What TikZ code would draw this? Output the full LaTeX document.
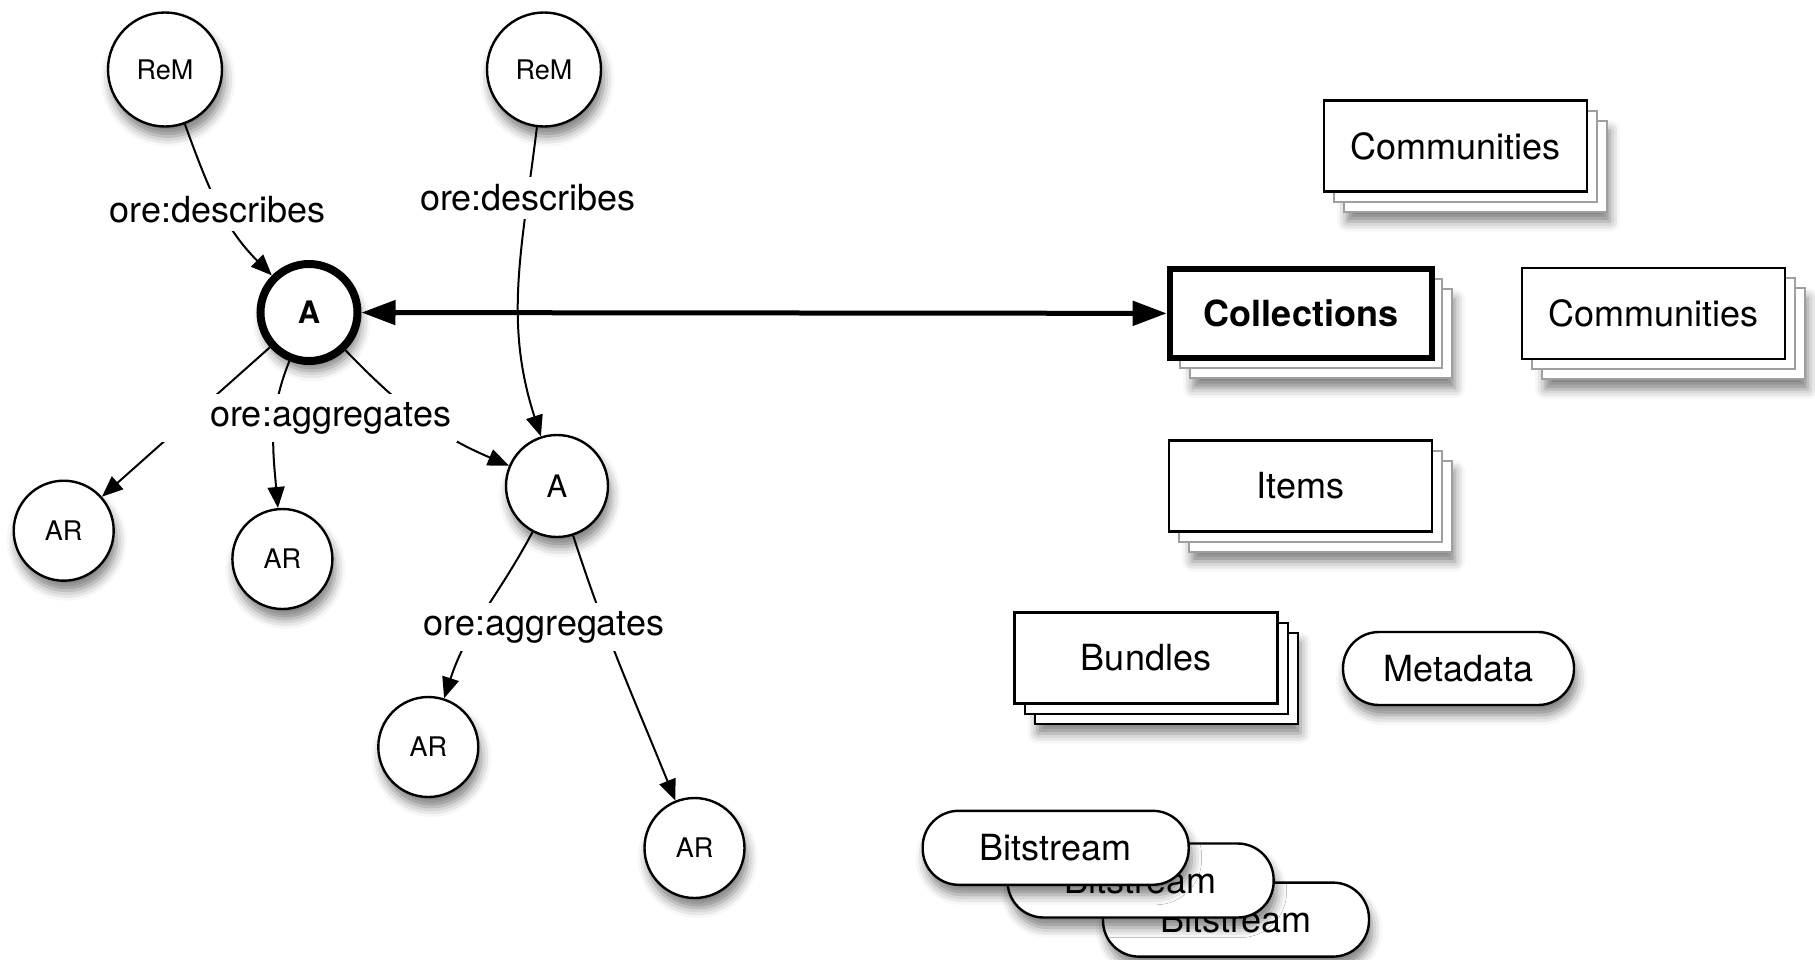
\documentclass[tikz,border=0pt]{standalone}
\usepackage{fontspec}
\setmainfont{TeX Gyre Heros}
\usetikzlibrary{arrows.meta,shadows,shadows.blur}

\tikzset{
  softshadow/.style={blur shadow={shadow xshift=1.5pt,shadow yshift=-5pt,
      shadow blur radius=5pt,shadow opacity=50}},
  res/.style={circle,draw,line width=1.2pt,fill=white,minimum size=50pt,
      inner sep=0pt,font=\fontsize{13.5}{15}\selectfont,softshadow},
  remnode/.style={res,minimum size=57pt},
  aggnode/.style={res,minimum size=51pt,font=\fontsize{15.5}{17}\selectfont},
  mainagg/.style={res,minimum size=48.5pt,line width=4pt,
      font=\fontsize{15.5}{17}\selectfont\bfseries},
  boxbase/.style={rectangle,draw,line width=1.2pt,fill=white,
      minimum width=131.5pt,minimum height=45.5pt,inner sep=0pt,
      font=\fontsize{18}{20}\selectfont},
  stackbox/.style={boxbase,
      blur shadow={shadow xshift=11.5pt,shadow yshift=-15pt,
        shadow blur radius=5pt,shadow opacity=50},
      copy shadow={shadow xshift=10pt,shadow yshift=-10pt,draw=#1,line width=1pt,fill=white},
      copy shadow={shadow xshift=5pt,shadow yshift=-5pt,draw=#1,line width=1pt,fill=white}},
  stackbox/.default=gray!75,
  pill/.style={rectangle,draw,line width=1.2pt,fill=white,rounded corners=18pt,
      minimum width=133pt,minimum height=37pt,inner sep=0pt,
      font=\fontsize{18}{20}\selectfont,softshadow},
  edge/.style={line width=1pt,-{Triangle[length=10.5pt,width=8.5pt]}},
  lbl/.style={fill=white,inner xsep=3pt,inner ysep=4pt,
      font=\fontsize{18}{20}\selectfont},
  bigtip/.tip={Triangle[length=17pt,width=12pt]},
}

\begin{document}
\begin{tikzpicture}[x=0.5pt,y=0.5pt]
\useasboundingbox (0,0) rectangle (1815,-959);

% resource maps, aggregations and aggregated resources
\node[remnode] (rem1) at (165,-69.5) {ReM};
\node[remnode] (rem2) at (544,-69.5) {ReM};
\node[mainagg] (a1) at (309,-312.5) {A};
\node[aggnode] (a2) at (557,-486) {A};
\node[res] (ar1) at (63.7,-530.7) {AR};
\node[res] (ar2) at (282.4,-559) {AR};
\node[res] (ar3) at (428.3,-747) {AR};
\node[res] (ar4) at (694.5,-848) {AR};

% repository object hierarchy
\node[stackbox] (comm1) at (1455.5,-146) {Communities};
\node[stackbox,line width=3.3pt,minimum width=131pt,minimum height=44.5pt,
      font=\fontsize{18}{20}\selectfont\bfseries] (coll) at (1301,-313.5) {Collections};
\node[stackbox] (comm2) at (1653.5,-313.7) {Communities};
\node[stackbox] (items) at (1300.5,-486) {Items};
\node[stackbox=black] (bundles) at (1146,-658) {Bundles};
\node[pill,minimum width=115.5pt,minimum height=36.5pt] (meta) at (1458.5,-668.5) {Metadata};
\node[pill] (bit3) at (1236,-919.6) {Bitstream};
\node[pill] (bit2) at (1140.6,-880.5) {Bitstream};
\node[pill] (bit1) at (1055.7,-847.8) {Bitstream};

% ORE relations
\draw[edge] (rem1) to[out=-70,in=135] (a1);
\draw[edge] (rem2) to[out=-97,in=108] (a2);
\draw[edge] (a1) -- (ar1);
\draw[edge] (a1) to[out=-112,in=95] (ar2);
\draw[edge] (a1) to[out=-46,in=157] (a2);
\draw[edge] (a2) to[out=-118,in=72] (ar3);
\draw[edge] (a2) to[out=-72,in=112] (ar4);

% edge labels, masking the lines they sit on
\node[lbl] (desc1) at (217.6,-210) {ore:describes};
\node[lbl] (desc2) at (528,-198) {ore:describes};
\node[lbl,text width=142pt,align=right] (agg1) at (309,-418) {ore:aggregates};
\node[lbl] (agg2) at (544,-627) {ore:aggregates};

% mapping between the aggregation and the collection
\draw[line width=2.5pt,bigtip-bigtip] (a1) -- (coll);
\end{tikzpicture}
\end{document}
